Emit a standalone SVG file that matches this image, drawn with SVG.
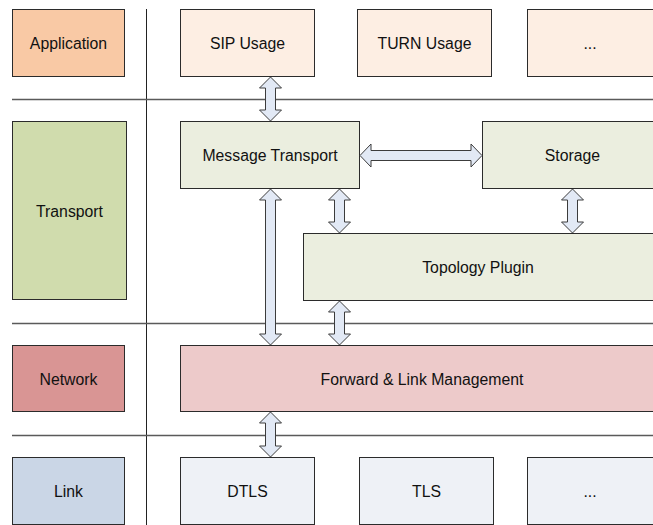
<svg xmlns="http://www.w3.org/2000/svg" width="653" height="525" viewBox="0 0 653 525">
  <style>
    .box { stroke: #2b2b2b; stroke-width: 1; }
    .lbl { font-family: "Liberation Sans", Arial, sans-serif; font-size: 15.8px; fill: #111; text-anchor: middle; dominant-baseline: central; }
    .app { fill: #f9c9a5; }
    .usage { fill: #fdeee3; }
    .tr { fill: #d0dcad; }
    .trn { fill: #ebeedf; }
    .net { fill: #d99594; }
    .netn { fill: #edcaca; }
    .lnk { fill: #cad6e6; }
    .lnkn { fill: #eef1f6; }
    .sep { stroke: #5a5a5a; stroke-width: 1.3; fill: none; }
    .arrow { fill: #e2e9f5; stroke: #3c3c3c; stroke-width: 1; stroke-linejoin: miter; }
  </style>

  <!-- layer grid -->
  <g id="grid">
    <line class="sep" x1="146.5" y1="9" x2="146.5" y2="525" style="stroke:#222;stroke-width:1"/>
    <line class="sep" x1="12" y1="99.5" x2="653" y2="99.5"/>
    <line class="sep" x1="12" y1="323.5" x2="653" y2="323.5"/>
    <line class="sep" x1="12" y1="435.5" x2="653" y2="435.5"/>
  </g>

  <!-- layer labels -->
  <g id="layer-application"><rect class="box app" x="12.5" y="9.5" width="112" height="67"/><text class="lbl" x="68.5" y="43">Application</text></g>
  <g id="layer-transport"><rect class="box tr" x="12.5" y="121.5" width="114" height="178"/><text class="lbl" x="69.5" y="211">Transport</text></g>
  <g id="layer-network"><rect class="box net" x="12.5" y="345.5" width="112" height="66"/><text class="lbl" x="68.5" y="379">Network</text></g>
  <g id="layer-link"><rect class="box lnk" x="12.5" y="457.5" width="112" height="67"/><text class="lbl" x="68.5" y="491">Link</text></g>

  <!-- application layer -->
  <g id="sip-usage"><rect class="box usage" x="180.5" y="9.5" width="134" height="67"/><text class="lbl" x="247.5" y="43">SIP Usage</text></g>
  <g id="turn-usage"><rect class="box usage" x="357.5" y="9.5" width="134" height="67"/><text class="lbl" x="424.5" y="43">TURN Usage</text></g>
  <g id="more-usage"><rect class="box usage" x="527.5" y="9.5" width="134" height="67"/><text class="lbl" x="590" y="43">...</text></g>

  <!-- transport layer -->
  <g id="message-transport"><rect class="box trn" x="180.5" y="121.5" width="179" height="67"/><text class="lbl" x="270" y="155">Message Transport</text></g>
  <g id="storage"><rect class="box trn" x="482.5" y="121.5" width="180" height="67"/><text class="lbl" x="572.5" y="155">Storage</text></g>
  <g id="topology-plugin"><rect class="box trn" x="303.5" y="233.5" width="360" height="67"/><text class="lbl" x="478" y="267">Topology Plugin</text></g>

  <!-- network layer -->
  <g id="forward-link"><rect class="box netn" x="180.5" y="345.5" width="483" height="66"/><text class="lbl" x="422" y="379">Forward &amp; Link Management</text></g>

  <!-- link layer -->
  <g id="dtls"><rect class="box lnkn" x="180.5" y="457.5" width="134" height="67"/><text class="lbl" x="247.5" y="491">DTLS</text></g>
  <g id="tls"><rect class="box lnkn" x="359.5" y="457.5" width="134" height="67"/><text class="lbl" x="426.5" y="491">TLS</text></g>
  <g id="more-link"><rect class="box lnkn" x="527.5" y="457.5" width="134" height="67"/><text class="lbl" x="590" y="491">...</text></g>

  <!-- connectors: double-headed block arrows -->
  <g id="connectors">
    <!-- SIP Usage <-> Message Transport -->
    <path class="arrow" d="M270.5,77 L281.5,88 L275.5,88 L275.5,110 L281.5,110 L270.5,121 L259.5,110 L265.5,110 L265.5,88 L259.5,88 Z"/>
    <!-- Message Transport <-> Storage -->
    <path class="arrow" d="M360,155.5 L371,144 L371,150.5 L471,150.5 L471,144 L482,155.5 L471,167 L471,160.5 L371,160.5 L371,167 Z"/>
    <!-- Message Transport <-> Topology Plugin -->
    <path class="arrow" d="M339.5,189 L350.5,200 L344.5,200 L344.5,222 L350.5,222 L339.5,233 L328.5,222 L334.5,222 L334.5,200 L328.5,200 Z"/>
    <!-- Storage <-> Topology Plugin -->
    <path class="arrow" d="M572.5,189 L583.5,200 L577.5,200 L577.5,222 L583.5,222 L572.5,233 L561.5,222 L567.5,222 L567.5,200 L561.5,200 Z"/>
    <!-- Message Transport <-> Forward & Link Management -->
    <path class="arrow" d="M270.5,189 L281.5,200 L275.5,200 L275.5,334 L281.5,334 L270.5,345 L259.5,334 L265.5,334 L265.5,200 L259.5,200 Z"/>
    <!-- Topology Plugin <-> Forward & Link Management -->
    <path class="arrow" d="M339.5,301 L350.5,312 L344.5,312 L344.5,334 L350.5,334 L339.5,345 L328.5,334 L334.5,334 L334.5,312 L328.5,312 Z"/>
    <!-- Forward & Link Management <-> DTLS -->
    <path class="arrow" d="M270.5,412 L281.5,423 L275.5,423 L275.5,446 L281.5,446 L270.5,457 L259.5,446 L265.5,446 L265.5,423 L259.5,423 Z"/>
  </g>
</svg>
